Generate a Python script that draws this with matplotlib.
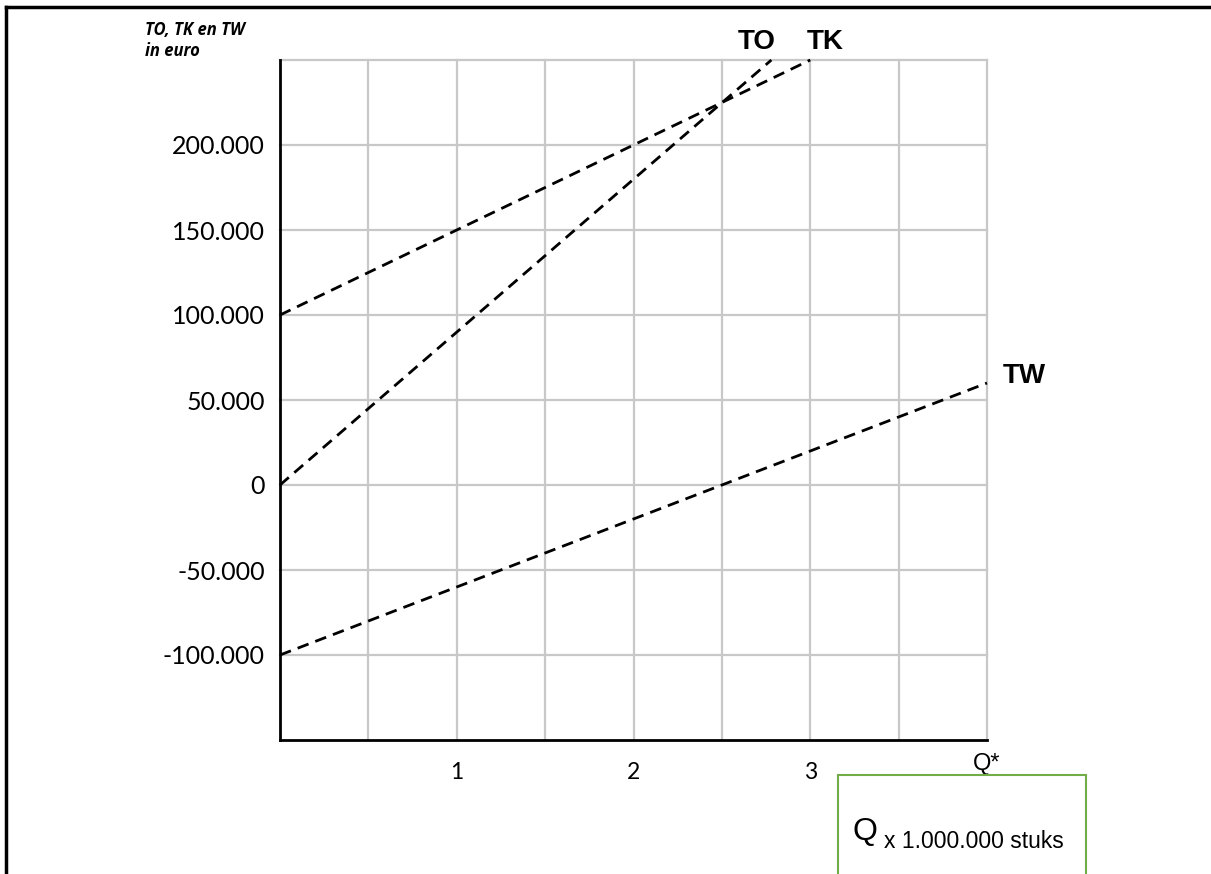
import matplotlib
matplotlib.use("Agg")
import matplotlib.pyplot as plt
from matplotlib.patches import Rectangle
from matplotlib.lines import Line2D

# data
to_q = [0, 2.78]
to_v = [0, 250000]
tk_q = [0, 3]
tk_v = [100000, 250000]
tw_q = [0, 4]
tw_v = [-100000, 60000]
y_ticks = [-100000, -50000, 0, 50000, 100000, 150000, 200000]
y_labels = ["-100.000", "-50.000", "0", "50.000", "100.000", "150.000", "200.000"]
x_ticks = [1, 2, 3]
x_labels = ["1", "2", "3"]

W, H = 1211, 874
fig = plt.figure(figsize=(W / 100, H / 100), dpi=100)
ax = fig.add_axes([280 / W, (H - 740) / H, (987 - 280) / W, (740 - 60) / H])
ax.set_xlim(0, 4)
ax.set_ylim(-150000, 250000)

grid_c = "#c8c8c8"
for gx in [0.5, 1, 1.5, 2, 2.5, 3, 3.5, 4]:
    ax.axvline(gx, color=grid_c, lw=1.6, zorder=1, clip_on=False)
for gy in [-100000, -50000, 0, 50000, 100000, 150000, 200000, 250000]:
    ax.axhline(gy, color=grid_c, lw=1.6, zorder=1, clip_on=False)

for s in ["top", "right"]:
    ax.spines[s].set_visible(False)
for s in ["left", "bottom"]:
    ax.spines[s].set_linewidth(2)
    ax.spines[s].set_color("black")
    ax.spines[s].set_zorder(3)

ls = (0, (4.2, 2.6))
for q, v in [(to_q, to_v), (tk_q, tk_v), (tw_q, tw_v)]:
    ax.plot(q, v, color="black", lw=2.0, linestyle=ls, zorder=4, clip_on=False)

ax.set_yticks(y_ticks)
ax.set_yticklabels(y_labels, fontsize=18, family="Lato")
ax.set_xticks(x_ticks)
ax.set_xticklabels(x_labels, fontsize=16.5, family="Lato")
ax.tick_params(axis="y", length=0, pad=11)
ax.tick_params(axis="x", length=0, pad=16)

ax.text(4, -157500, "Q*", ha="center", va="top",
        fontsize=17, family="Liberation Sans")

fig.text(757 / W, 1 - 42 / H, "TO", fontsize=20, fontweight="bold",
         family="Liberation Sans", ha="center", va="center")
fig.text(825 / W, 1 - 42 / H, "TK", fontsize=20, fontweight="bold",
         family="Liberation Sans", ha="center", va="center")
fig.text(1024 / W, 1 - 376 / H, "TW", fontsize=20, fontweight="bold",
         family="Liberation Sans", ha="center", va="center")

fig.text(145 / W, 1 - 30 / H, "TO, TK en TW", fontsize=12, fontweight="bold",
         fontstyle="italic", family="Open Sans", ha="left", va="center")
fig.text(145 / W, 1 - 51 / H, "in euro", fontsize=12, fontweight="bold",
         fontstyle="italic", family="Open Sans", ha="left", va="center")

# green box
fig.patches.append(Rectangle((838 / W, -0.05), (1086 - 838) / W, 0.05 + (H - 775) / H,
                             transform=fig.transFigure, fill=False,
                             edgecolor="#70ad47", lw=1.5))
fig.text(852 / W, 1 - 832 / H, "Q", fontsize=23, family="Liberation Sans",
         ha="left", va="center")
fig.text(884 / W, 1 - 841 / H, "x 1.000.000 stuks", fontsize=16.5,
         family="Liberation Sans", ha="left", va="center")

# page border
fig.add_artist(Line2D([6 / W, 1.01], [1 - 7 / H, 1 - 7 / H], color="black", lw=2.5,
                      transform=fig.transFigure))
fig.add_artist(Line2D([6 / W, 6 / W], [1 - 7 / H, -0.01], color="black", lw=2.5,
                      transform=fig.transFigure))

fig.savefig("out.png", dpi=100)
